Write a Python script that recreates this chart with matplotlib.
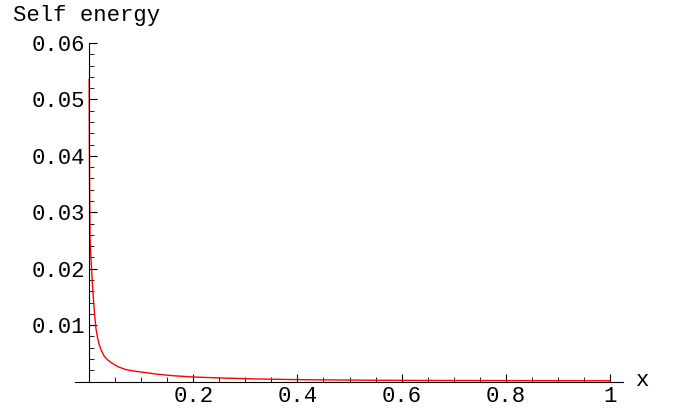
import matplotlib as mpl
mpl.use("Agg")
import matplotlib.pyplot as plt
import numpy as np

# values
x_vals = [0.0002, 0.0006, 0.0012, 0.0019, 0.0028, 0.0038, 0.0052, 0.0071, 0.0090,
          0.0110, 0.0134, 0.016, 0.019, 0.023, 0.029, 0.036, 0.045, 0.056,
          0.071, 0.09, 0.107, 0.13, 0.165, 0.2, 0.25, 0.315, 0.38, 0.44,
          0.52, 0.6, 0.7, 0.8, 0.9, 1.0]
y_vals = [0.0536, 0.042, 0.032, 0.0251, 0.0233, 0.0216, 0.0192, 0.0162, 0.0138,
          0.0114, 0.0093, 0.0079, 0.0067, 0.0056, 0.0045, 0.0038, 0.0032, 0.0026,
          0.0021, 0.0018, 0.0016, 0.0013, 0.0010, 0.0008, 0.00063, 0.00046, 0.00036, 0.00029,
          0.00024, 0.0002, 0.00018, 0.00016, 0.00014, 0.00013]

x_major = [0.2, 0.4, 0.6, 0.8, 1.0]
x_labels = ['0.2', '0.4', '0.6', '0.8', '1']
y_major = [0.01, 0.02, 0.03, 0.04, 0.05, 0.06]
y_labels = ['0.01', '0.02', '0.03', '0.04', '0.05', '0.06']

mono = 'Liberation Mono'
fs = 16

fig = plt.figure(figsize=(6.78, 4.11), dpi=100)
ax = fig.add_axes([75/678, (411-381.5)/411, 548/678, 338.5/411])
ax.plot(x_vals, y_vals, color='red', lw=1.0, clip_on=False)

ax.set_xlim(-0.027, 1.025)
ax.set_ylim(0, 0.06)
ax.spines['top'].set_visible(False)
ax.spines['right'].set_visible(False)
ax.spines['left'].set_position(('data', 0))
ax.spines['left'].set_bounds(0, 0.06)
ax.spines['bottom'].set_position(('data', 0))
for s in ['left', 'bottom']:
    ax.spines[s].set_linewidth(0.8)

ax.set_xticks(x_major)
ax.set_xticklabels(x_labels, fontfamily=mono, fontsize=fs)
ax.set_xticks(np.arange(0.05, 1.0001, 0.05), minor=True)
ax.set_yticks(y_major)
ax.set_yticklabels(y_labels, fontfamily=mono, fontsize=fs)
ax.set_yticks(np.arange(0.002, 0.0601, 0.002), minor=True)
ax.tick_params(which='major', direction='in', length=6, width=0.8, pad=3)
ax.tick_params(which='minor', direction='in', length=3.5, width=0.6)

fig.text(13/678, 1 - 16/411, 'Self energy', fontfamily=mono, fontsize=fs,
         va='center', ha='left')
fig.text(643/678, 1 - 380/411, 'x', fontfamily=mono, fontsize=fs,
         va='center', ha='center')

plt.savefig('out.png', dpi=100)
